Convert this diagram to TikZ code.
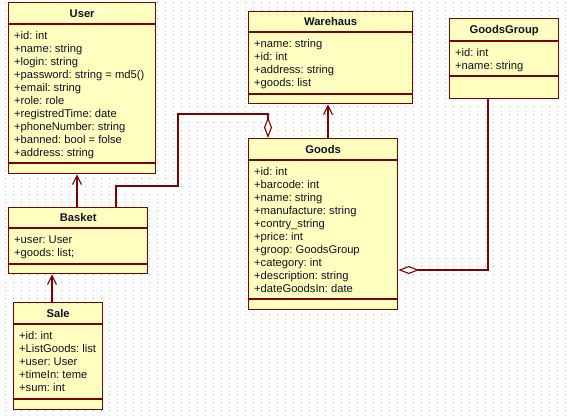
\documentclass[tikz,border=0pt]{standalone}
\usepackage{fontspec}
\setmainfont{Liberation Sans}
\usetikzlibrary{arrows.meta}
\frenchspacing

\definecolor{umlborder}{HTML}{800000}
\definecolor{umlfill}{HTML}{FFFFC0}
\definecolor{griddot}{HTML}{A8A8A8}
\definecolor{umltext}{HTML}{101020}

\tikzset{
  classbox/.style={draw=umlborder, fill=umlfill, line width=1.3pt, inner sep=0pt},
  classline/.style={draw=umlborder, line width=1.3pt},
  classtitle/.style={font=\fontsize{11.2}{13}\selectfont\bfseries, text=umltext, inner sep=0pt},
  attr/.style={font=\fontsize{11.2}{13}\selectfont, text=umltext, inner sep=0pt},
  link/.style={draw=umlborder, line width=1.1pt},
  depend/.style={link, -{Straight Barb[length=9pt,width=9pt]}},
  aggreg/.style={link, -{Diamond[open,length=21pt,width=8pt]}},
}

% name, x, y, width, height, title rule offset, attribute rule offset, title, attributes
\newcommand\umlclass[9]{%
  \node[classbox, minimum width=#4pt, minimum height=#5pt, anchor=north west] (#1) at (#2,#3) {};
  \draw[classline] ([yshift=-#6pt]#1.north west) -- ([yshift=-#6pt]#1.north east);
  \draw[classline] ([yshift=-#7pt]#1.north west) -- ([yshift=-#7pt]#1.north east);
  \node[classtitle, anchor=base] (#1-title) at ([yshift={-(#6/2+4)*1pt}]#1.north) {#8};
  \foreach \t [count=\i] in {#9}
    \node[attr, anchor=base west] (#1-a\i) at ([xshift=6pt, yshift={-(#6+15+13*(\i-1))*1pt}]#1.north west) {\t};
}

\begin{document}
\begin{tikzpicture}[x=1pt, y=-1pt]
  \useasboundingbox (0,0) rectangle (569,416);
  \fill[white] (0,0) rectangle (569,416);

  % dotted drawing grid
  \foreach \gx in {5,13,...,565}
    \foreach \gy in {2,10,...,410}
      \fill[griddot] (\gx,\gy) rectangle ++(1,1);

  \umlclass{User}{8}{2}{147}{171}{22}{161}{User}{%
    +id: int, +name: string, +login: string, +password: string = md5(),
    +email: string, +role: role, +registredTime: date, +phoneNumber: string,
    +banned: bool = folse, +address: string}
  \umlclass{Warehaus}{248}{11}{164}{92}{21}{83}{Warehaus}{%
    +name: string, +id: int, +address: string, +goods: list}
  \umlclass{GoodsGroup}{449}{18}{109}{80}{23}{58}{GoodsGroup}{%
    +id: int, +name: string}
  \umlclass{Goods}{248}{138}{149}{171}{22}{161}{Goods}{%
    +id: int, +barcode: int, +name: string, +manufacture: string,
    +contry\_string, +price: int, +groop: GoodsGroup, +category: int,
    +description: string, +dateGoodsIn: date}
  \umlclass{Basket}{8}{207}{139}{66}{21}{57}{Basket}{%
    +user: User, +goods: list;}
  \umlclass{Sale}{13}{302}{89}{107}{22}{97}{Sale}{%
    +id: int, +ListGoods: list, +user: User, +timeIn: teme, +sum: int}

  % dependencies
  \draw[depend] (Basket.north -| 77,0) -- (User.south -| 77,0);
  \draw[depend] (Sale.north -| 52,0) -- (Basket.south -| 52,0);
  \draw[depend] (Goods.north -| 328,0) -- (Warehaus.south -| 328,0);

  % aggregations
  \draw[aggreg] (Basket.north -| 116,0) -- (116,186) -- (178,186) -- (178,114)
    -- (268,114) -- (Goods.north -| 268,0);
  \draw[aggreg] (GoodsGroup.south -| 488,0) -- (488,270) -- (Goods.east |- 0,270);
\end{tikzpicture}
\end{document}
